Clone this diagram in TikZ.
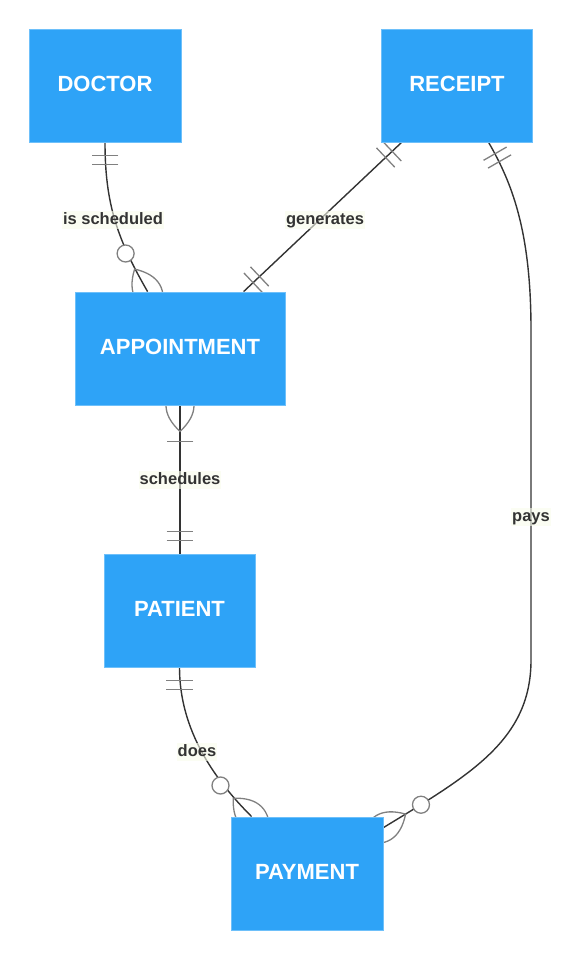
\documentclass[tikz,border=0pt]{standalone}
\usepackage{fontspec}
\setmainfont{Liberation Sans}
\usetikzlibrary{calc}
\pgfdeclarelayer{bg}
\pgfsetlayers{bg,main}
\definecolor{boxblue}{RGB}{46,163,247}
\definecolor{boxedge}{RGB}{110,192,250}
\definecolor{linec}{RGB}{51,51,51}
\definecolor{markc}{RGB}{128,128,128}
\definecolor{lblbg}{RGB}{248,252,235}
% crow's foot lens at end #1, tangent back point #2
\newcommand\crowLens[2]{\draw[marker] ($(#1)!26pt!(#2)$) .. controls ($(#1)!20.58pt!65.1:(#2)$) and ($(#1)!20.58pt!114.9:(#2)$) .. ($(#1)!-26pt!(#2)$) .. controls ($(#1)!20.58pt!-114.9:(#2)$) and ($(#1)!20.58pt!-65.1:(#2)$) .. cycle;}
\newcommand\zeroCircle[2]{\draw[marker,fill=white] ($(#1)!44pt!(#2)$) circle[radius=8.5pt];}
\newcommand\oneBars[2]{\draw[marker] ($(#1)!18.62pt!45.66:(#2)$) -- ($(#1)!18.62pt!-45.66:(#2)$) ($(#1)!25.71pt!31.15:(#2)$) -- ($(#1)!25.71pt!-31.15:(#2)$);}
\newcommand\oneBar[2]{\draw[marker] ($(#1)!38.38pt!20.28:(#2)$) -- ($(#1)!38.38pt!-20.28:(#2)$);}
\begin{document}
\begin{tikzpicture}[x=1pt,y=-1pt,
  entity/.style={draw=boxedge, line width=0.8pt, fill=boxblue, text=white,
    font=\fontsize{22}{26}\selectfont\bfseries, minimum height=113pt, inner sep=0pt,
    text height=15.8pt, text depth=4pt},
  lbl/.style={fill=lblbg, fill opacity=0.6, text opacity=1, text=linec,
    font=\fontsize{16.5}{19}\selectfont\bfseries, inner sep=1pt,
    text height=12pt, text depth=3.5pt},
  conn/.style={draw=linec, line width=1.4pt},
  marker/.style={draw=markc, line width=1.3pt}]
\useasboundingbox (0,0) rectangle (581,960);
% entities
\node[entity, minimum width=152pt] (doctor) at (105,85.5) {DOCTOR};
\node[entity, minimum width=151pt] (receipt) at (457,85.5) {RECEIPT};
\node[entity, minimum width=210pt] (appt) at (180,348.5) {APPOINTMENT};
\node[entity, minimum width=151pt] (patient) at (179.5,610.5) {PATIENT};
\node[entity, minimum width=152pt] (payment) at (307,873.5) {PAYMENT};
% attachment points
\coordinate (a1) at ($(appt.north west)+(73,0)$);
\coordinate (a2) at ($(appt.north west)+(169,0)$);
\coordinate (r1) at ($(receipt.south west)+(20.5,0)$);
\coordinate (r2) at ($(receipt.south west)+(107.5,0)$);
\coordinate (p1) at ($(payment.north west)+(21,0)$);
\coordinate (p2) at ($(payment.north east)+(0,11)$);
\coordinate (pc1) at (531,330);
\coordinate (pc2) at (531,660);
\coordinate (pt) at (appt.south |- patient.north);
% tangent helpers
\coordinate (t1a) at ($(doctor.south)+(0,62)$);
\coordinate (t1) at ($(a1)+(-30,-52)$);
\coordinate (t3a) at ($(r2)+(23,40)$);
\coordinate (t3b) at ($(p2)+(87,-53)$);
\coordinate (t5a) at ($(patient.south)+(0,63)$);
\coordinate (t5b) at ($(p1)+(-37,-37)$);
\begin{pgfonlayer}{bg}
  % is scheduled
  \draw[conn] (doctor.south) .. controls (t1a) and (t1) .. (a1);
  % generates
  \draw[conn] (r1) -- (a2);
  % pays
  \draw[conn] (r2) .. controls (t3a) and ($(pc1)+(0,-100)$) .. (pc1) -- (pc2) .. controls ($(pc2)+(0,80)$) and (t3b) .. (p2);
  % schedules
  \draw[conn] (appt.south) -- (pt);
  % does
  \draw[conn] (patient.south) .. controls (t5a) and (t5b) .. (p1);
  % markers
  \oneBars{doctor.south}{t1a}
  \crowLens{a1}{t1}
  \zeroCircle{a1}{t1}
  \oneBars{r1}{a2}
  \oneBars{a2}{r1}
  \oneBars{r2}{t3a}
  \crowLens{p2}{t3b}
  \zeroCircle{p2}{t3b}
  \crowLens{appt.south}{pt}
  \oneBar{appt.south}{pt}
  \oneBars{pt}{appt.south}
  \oneBars{patient.south}{t5a}
  \crowLens{p1}{t5b}
  \zeroCircle{p1}{t5b}
\end{pgfonlayer}
% labels
\node[lbl] (l1) at (113,220) {is scheduled};
\node[lbl] (l2) at (325,220) {generates};
\node[lbl] (l3) at (180,480) {schedules};
\node[lbl] (l4) at (197,752) {does};
\node[lbl] (l5) at (531,517) {pays};
\end{tikzpicture}
\end{document}
